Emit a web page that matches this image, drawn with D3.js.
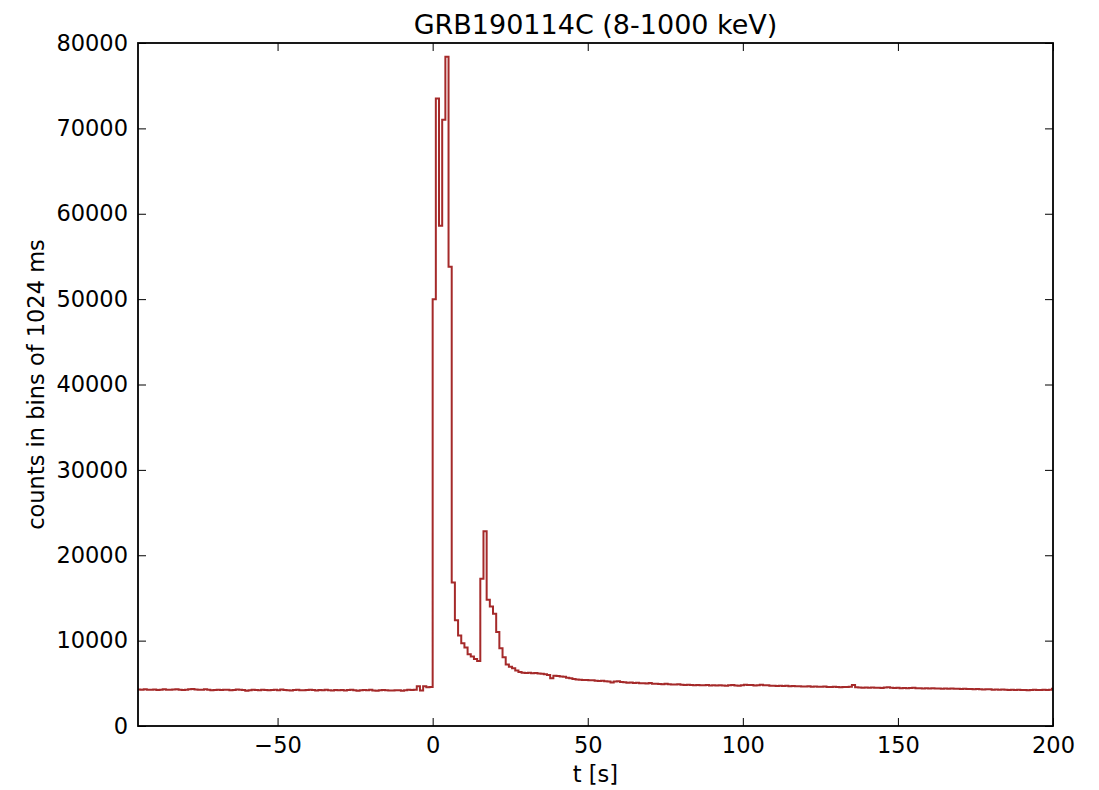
<!DOCTYPE html>
<html>
<head>
<meta charset="utf-8">
<script src="https://cdn.jsdelivr.net/npm/d3@7/dist/d3.min.js"></script>
<style>
html,body{margin:0;padding:0;background:#fff;}
svg{display:block;font-family:"DejaVu Sans",sans-serif;}
</style>
</head>
<body>
<svg id="chart" width="1099" height="790"></svg>
<script>
// Data: counts in 1.024 s bins; first bin index -93 (bin start = index * 1.024 s)
const binWidth = 1.024;
const firstBinIndex = -93;
const preBurst = [
  4270, 4250, 4290, 4240, 4260, 4280, 4230, 4260, 4300, 4250,
  4240, 4270, 4310, 4260, 4230, 4250, 4290, 4340, 4270, 4250,
  4260, 4300, 4240, 4180, 4210, 4250, 4230, 4260, 4240, 4200,
  4220, 4270, 4250, 4230, 4140, 4190, 4250, 4220, 4200, 4240,
  4210, 4180, 4230, 4250, 4200, 4270, 4220, 4190, 4150, 4210,
  4240, 4200, 4180, 4230, 4260, 4210, 4170, 4220, 4190, 4250,
  4200, 4170, 4230, 4180, 4210, 4160, 4230, 4250, 4190, 4140,
  4180, 4210, 4200, 4240, 4170, 4120, 4190, 4230, 4200, 4160,
  4150, 4200, 4180, 4140, 4190, 4250, 4220, 4260, 4650, 4150,
  4650, 4530, 4560
];
const burst = [
  50000, 73500, 58600, 71000, 78400, 53800, 16800, 12400, 10600, 9700,
  9200, 8400, 8150, 7850, 7600, 17250, 22800, 14800, 14000, 13150,
  11000, 9100, 8050, 7200, 6950
];
const decay = [
  6750, 6500, 6320, 6250, 6200, 6230, 6180, 6200, 6150, 6120,
  6050, 5980, 5600, 5880, 5850, 5800, 5760, 5650, 5580, 5500,
  5450, 5420, 5400, 5380, 5350, 5370, 5300, 5280, 5310, 5250,
  5220, 5100, 5200, 5230, 5150, 5120, 5080, 5100, 5050, 5060,
  5000, 5020, 4990, 5040, 4950, 4960, 4930, 4900, 4940, 4880,
  4870, 4850, 4880, 4830, 4790, 4820, 4800, 4760, 4810, 4780,
  4760, 4800, 4740, 4770, 4730, 4780, 4750, 4720, 4760, 4790,
  4740, 4700, 4760, 4830, 4800, 4810, 4740, 4770, 4840, 4780,
  4760, 4720, 4700, 4690, 4710, 4680, 4700, 4660, 4690, 4650,
  4670, 4640, 4620, 4650, 4610, 4630, 4600, 4590, 4620, 4580,
  4560, 4600, 4570, 4540, 4580, 4560, 4590, 4800, 4550, 4510,
  4490, 4500, 4480, 4520, 4470, 4490, 4460, 4500, 4530, 4470,
  4450, 4480, 4430, 4460, 4410, 4440, 4470, 4420, 4430, 4400,
  4420, 4390, 4410, 4380, 4400, 4370, 4390, 4360, 4380, 4350,
  4370, 4330, 4360, 4320, 4340, 4300, 4330, 4310, 4280, 4290,
  4300, 4260, 4280, 4250, 4270, 4240, 4230, 4260, 4220, 4240,
  4210, 4230, 4200, 4220, 4240, 4210, 4230, 4250, 4220, 4260,
  4350
];
const xTicks = [-50, 0, 50, 100, 150, 200];
const yTicks = [0, 10000, 20000, 30000, 40000, 50000, 60000, 70000, 80000];
const xDomain = [-95, 200];
const yDomain = [0, 80000];
const title = "GRB190114C (8-1000 keV)";
const xLabel = "t [s]";
const yLabel = "counts in bins of 1024 ms";

const counts = preBurst.concat(burst, decay);

const W = 1099, H = 790;
const m = {left: 138, right: 46, top: 43, bottom: 64};
const iw = W - m.left - m.right, ih = H - m.top - m.bottom;

const svg = d3.select("#chart");
const g = svg.append("g").attr("transform", `translate(${m.left},${m.top})`);

const x = d3.scaleLinear().domain(xDomain).range([0, iw]);
const y = d3.scaleLinear().domain(yDomain).range([ih, 0]);

svg.append("defs").append("clipPath").attr("id", "clip")
  .append("rect").attr("width", iw).attr("height", ih);

const pts = counts.map((v, i) => [(firstBinIndex + i) * binWidth, v]);
pts.push([(firstBinIndex + counts.length) * binWidth, counts[counts.length - 1]]);

const line = d3.line().x(d => x(d[0])).y(d => y(d[1])).curve(d3.curveStepAfter);
g.append("path")
  .attr("clip-path", "url(#clip)")
  .attr("d", line(pts))
  .attr("fill", "none")
  .attr("stroke", "#a52a2a")
  .attr("stroke-width", 2)
  .attr("stroke-linejoin", "miter");

const fs = 22.5;
const tickLen = 8;

// bottom axis
const xb = g.append("g").attr("transform", `translate(0,${ih})`)
  .call(d3.axisBottom(x).tickValues(xTicks).tickSize(-tickLen).tickPadding(11).tickFormat(d => d < 0 ? "\u2212" + Math.abs(d) : d));
// top axis
const xt = g.append("g")
  .call(d3.axisTop(x).tickValues(xTicks).tickSize(-tickLen).tickFormat(""));
// left axis
const yl = g.append("g")
  .call(d3.axisLeft(y).tickValues(yTicks).tickSize(-tickLen).tickPadding(10).tickFormat(d3.format("d")));
// right axis
const yr = g.append("g").attr("transform", `translate(${iw},0)`)
  .call(d3.axisRight(y).tickValues(yTicks).tickSize(-tickLen).tickFormat(""));

[xb, xt, yl, yr].forEach(a => {
  a.select(".domain").remove();
  a.selectAll(".tick line").attr("stroke", "#000").attr("stroke-width", 1);
  a.selectAll("text").attr("fill", "#000").style("font-size", fs + "px").style("font-family", "'DejaVu Sans', sans-serif");
});
xb.selectAll("text").attr("dy", "0.71em");

// frame
g.append("rect").attr("width", iw).attr("height", ih)
  .attr("fill", "none").attr("stroke", "#000").attr("stroke-width", 1.8);

// title & labels
svg.append("text").attr("x", m.left + iw / 2).attr("y", 34)
  .attr("text-anchor", "middle").style("font-size", "27px").text(title);
svg.append("text").attr("x", m.left + iw / 2).attr("y", 782)
  .attr("text-anchor", "middle").style("font-size", fs + "px").text(xLabel);
svg.append("text").attr("transform", `translate(44,${m.top + ih / 2}) rotate(-90)`)
  .attr("text-anchor", "middle").style("font-size", fs + "px").text(yLabel);
</script>
</body>
</html>
